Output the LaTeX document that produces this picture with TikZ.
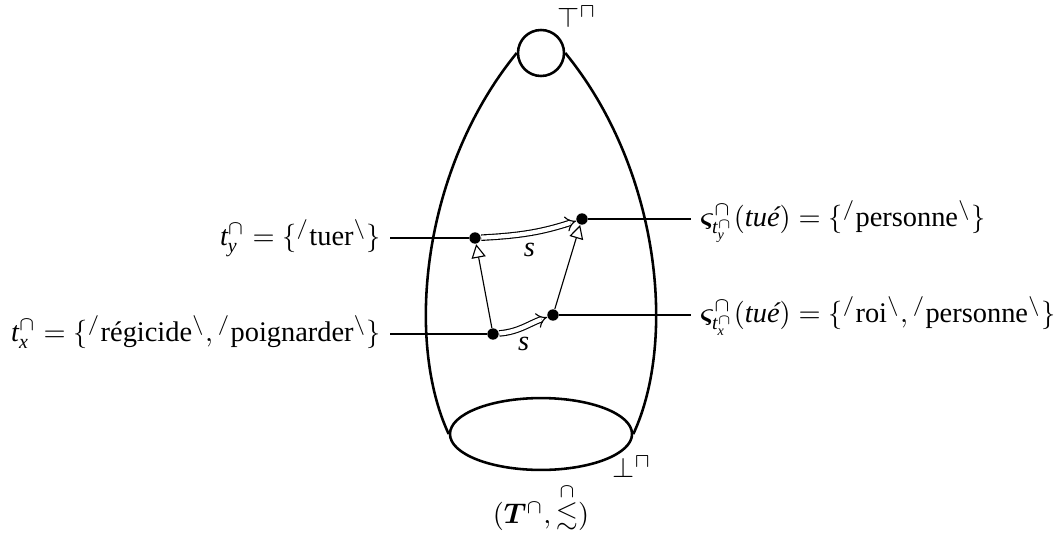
\documentclass[tikz,border=0pt]{standalone}
\usepackage{amsmath, amssymb, bm}
\usepackage{fontspec}
\setmainfont{Liberation Serif}
\usetikzlibrary{positioning, arrows.meta, shapes.geometric}

\newcommand{\phon}[1]{{}^{/}\text{#1}{}^{\backslash}}

\begin{document}
\begin{tikzpicture}[
  x=0.352pt, y=0.352pt,
  dot/.style={circle, fill=black, inner sep=0pt, minimum size=4pt},
  lift/.style={-{Triangle[open, length=4.8pt, width=5pt]}},
  trans/.style={double, double distance=1.5pt, -Implies},
  lab/.style={inner xsep=3pt, inner ysep=0pt}
]
  \useasboundingbox (0,0) rectangle (1062,534);
  % the lattice: top, bottom and outline
  \node[circle, draw, line width=0.9pt, inner sep=0pt, minimum size=16.2pt] (top) at (541,481) {};
  \node[ellipse, draw, line width=0.9pt, inner sep=0pt, minimum width=64.1pt, minimum height=25.3pt] (bot) at (541,100) {};
  \draw[line width=0.9pt] (top.west) .. controls (422,365) and (405,194) .. (bot.west);
  \draw[line width=0.9pt] (top.east) .. controls (660,365) and (677,194) .. (bot.east);
  \node (toplab) at (577,517) {$\top^{\sqcap}$};
  \node (botlab) at (632,67) {$\bot^{\sqcap}$};
  \node (order) at (541,27) {$(\bm{T}^{\cap}, \overset{\cap}{\lesssim})$};

  % points and their labels
  \node[dot] (ty) at (475,296) {};
  \node[dot] (sy) at (582,315) {};
  \node[dot] (tx) at (493,200) {};
  \node[dot] (sx) at (553,219) {};
  \node[lab, anchor=base east] (lty) at (390,289) {$\mathit{t}^{\cap}_{\mathit{y}} = \{\phon{tuer}\}$};
  \node[lab, anchor=base east] (ltx) at (390,193) {$\mathit{t}^{\cap}_{\mathit{x}} = \{\phon{régicide}, \phon{poignarder}\}$};
  \node[lab, anchor=base west] (lsy) at (691,308) {$\bm{\varsigma}^{\cap}_{\mathit{t}^{\cap}_{\mathit{y}}}(\textit{tué}) = \{\phon{personne}\}$};
  \node[lab, anchor=base west] (lsx) at (691,212) {$\bm{\varsigma}^{\cap}_{\mathit{t}^{\cap}_{\mathit{x}}}(\textit{tué}) = \{\phon{roi}, \phon{personne}\}$};

  \draw (lty.east |- ty) -- (ty);
  \draw (ltx.east |- tx) -- (tx);
  \draw (sy) -- (lsy.west |- sy);
  \draw (sx) -- (lsx.west |- sx);

  % arrows
  \draw[trans] (ty) to[out=3, in=198] node[below] {$\mathit{s}$} (sy);
  \draw[trans] (tx) to[out=5, in=200] node[below] {$\mathit{s}$} (sx);
  \draw[lift] (tx) -- (ty);
  \draw[lift] (sx) -- (sy);
\end{tikzpicture}
\end{document}
